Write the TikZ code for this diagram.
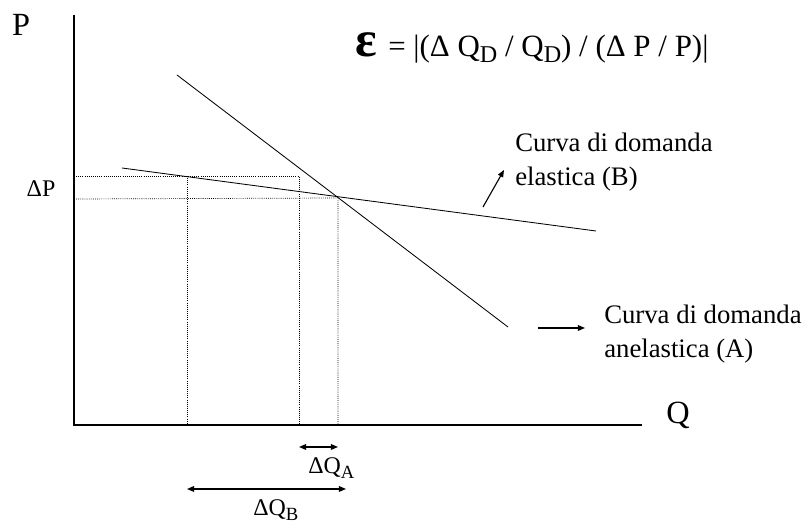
\documentclass[tikz,border=0pt]{standalone}
\usepackage{fontspec}
\usepackage{graphicx}
\setmainfont{Liberation Serif}
\usetikzlibrary{arrows.meta, positioning}
\newcommand{\lowidx}[1]{\raisebox{-0.38ex}{\scalebox{0.78}{#1}}}

\begin{document}
\begin{tikzpicture}[x=0.025cm, y=-0.025cm,
    axis/.style={draw, line width=0.9pt},
    curve/.style={draw, line width=0.6pt},
    guide/.style={draw, line width=0.5pt, dash pattern=on 0.6pt off 0.9pt},
    link/.style={draw, line width=0.8pt, -{Triangle[length=5pt, width=4pt]}},
    span/.style={draw, line width=0.8pt, {Triangle[length=5pt, width=4pt]}-{Triangle[length=5pt, width=4pt]}},
    lbl/.style={font=\fontsize{19}{24}\selectfont, align=left, inner sep=0pt},
    axl/.style={font=\fontsize{23}{23}\selectfont, inner sep=0pt},
    dl/.style={font=\fontsize{17}{17}\selectfont, inner sep=0pt}
]
    \useasboundingbox (0,0) rectangle (805,524);
    \coordinate (o) at (74,425);
    \coordinate (ytop) at (74,15);
    \coordinate (xend) at (642,425);
    \draw[axis] (ytop) -- (o) -- (xend);
    \node[axl, anchor=base] (p) at (21,36) {P};
    \node[axl, anchor=base] (q) at (678,424) {Q};
    \node[inner sep=0pt, anchor=base west, font=\fontsize{36}{36}\selectfont\bfseries] (eps) at (355,57) {ε};
    \node[inner sep=0pt, anchor=base west, font=\fontsize{22}{22}\selectfont] (rel) at (388,57)
        {= |(Δ Q\lowidx{D} / Q\lowidx{D}) / (Δ P / P)|};
    % domanda A e B
    \coordinate (a1) at (177,75);
    \coordinate (a2) at (508,327);
    \coordinate (b1) at (122,168);
    \coordinate (b2) at (596,231);
    \coordinate (e) at (338,198);
    \draw[curve] (a1) -- (a2);
    \draw[curve] (b1) -- (b2);
    % linee tratteggiate
    \coordinate (h1) at (74,176);
    \coordinate (h2) at (299,176);
    \coordinate (h3) at (74,199);
    \coordinate (v1) at (187,176);
    \coordinate (v1b) at (187,425);
    \coordinate (v2b) at (299,425);
    \coordinate (v3b) at (338,425);
    \draw[guide] (h1) -- (h2) -- (v2b);
    \draw[guide] (h3) -- (e) -- (v3b);
    \draw[guide] (v1) -- (v1b);
    \node[dl, anchor=base] (dp) at (41,197) {ΔP};
    % etichette
    \node[lbl, anchor=west] (labB) at (515,162) {Curva di domanda\\elastica (B)};
    \node[lbl, anchor=west] (labA) at (604,334) {Curva di domanda\\anelastica (A)};
    \coordinate (tB) at (483,207);
    \coordinate (hB) at (504,170);
    \coordinate (tA) at (538,328);
    \coordinate (hA) at (585,328);
    \draw[link] (tB) -- (hB);
    \draw[link] (tA) -- (hA);
    % variazioni di Q
    \coordinate (qa1) at (299,447);
    \coordinate (qa2) at (338,447);
    \coordinate (qb1) at (187,489);
    \coordinate (qb2) at (346,489);
    \draw[span] (qa1) -- (qa2);
    \draw[span] (qb1) -- (qb2);
    \node[dl, anchor=base west] (dqa) at (308,474) {ΔQ\lowidx{A}};
    \node[dl, anchor=base west] (dqb) at (253,516) {ΔQ\lowidx{B}};
\end{tikzpicture}
\end{document}
